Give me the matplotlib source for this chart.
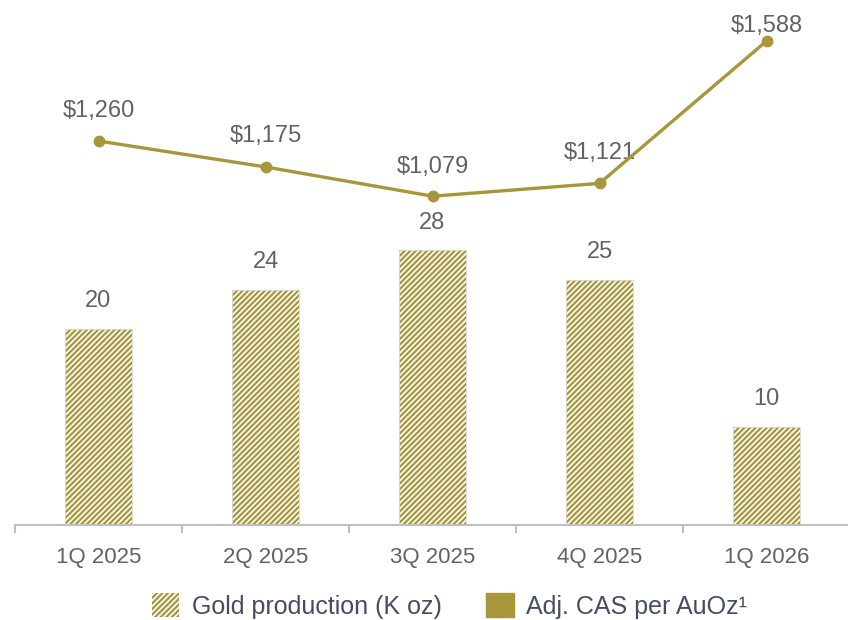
import matplotlib.pyplot as plt
import numpy as np
from matplotlib.patches import Patch

plt.rcParams['font.family'] = ['Liberation Sans', 'DejaVu Sans']
plt.rcParams['hatch.linewidth'] = 1.6

# quarterly gold production and adjusted cash cost
quarters = ['1Q 2025', '2Q 2025', '3Q 2025', '4Q 2025', '1Q 2026']
production = [20, 24, 28, 25, 10]          # K oz
cas_per_oz = [1260, 1175, 1079, 1121, 1588]  # US$ per AuOz

gold = '#A8963A'
label_grey = '#626262'
axis_grey = '#BFBFBF'
stripes = '//////'

fig = plt.figure(figsize=(8.48, 6.2), dpi=100)
ax = fig.add_axes([15 / 848, (620 - 525) / 620, 835 / 848, 515 / 620])
ax2 = ax.twinx()

x = np.arange(len(quarters))

# hatched bars for production, with a faint outline drawn on top
ax.bar(x, production, width=0.4, color='white', edgecolor=gold,
       hatch=stripes, linewidth=0, zorder=2)
ax.bar(x, production, width=0.4, fill=False, edgecolor='#D9D9D9',
       linewidth=0.6, zorder=3)
for xi, v in zip(x, production):
    ax.annotate(f'{v}', (xi, v), xytext=(0, 12), textcoords='offset points',
                ha='center', va='bottom', fontsize=17, color=label_grey)

ax.set_xlim(-0.5, len(quarters) - 0.5)
ax.set_ylim(0, 52.5)

# cash cost line on the secondary axis
ax2.plot(x, cas_per_oz, color=gold, lw=2.4, marker='o', ms=7.5, zorder=4)
line_offsets = [14, 14, 13, 14, 3]
for xi, v, off in zip(x, cas_per_oz, line_offsets):
    ax2.annotate(f'${v:,}', (xi, v), xytext=(0, off), textcoords='offset points',
                 ha='center', va='bottom', fontsize=17, color=label_grey)
ax2.set_ylim(0, 1690)

for a in (ax, ax2):
    for side in ('top', 'right', 'left'):
        a.spines[side].set_visible(False)
    a.set_yticks([])
ax2.spines['bottom'].set_visible(False)
ax.spines['bottom'].set_color(axis_grey)
ax.spines['bottom'].set_linewidth(1.5)

# category labels centred, tick marks on the boundaries
ax.set_xticks(x)
ax.set_xticklabels(quarters, fontsize=16, color=label_grey)
ax.tick_params(axis='x', which='major', length=0, pad=16)
ax.set_xticks(np.arange(-0.5, len(quarters)), minor=True)
ax.tick_params(axis='x', which='minor', length=6, width=1.5, color=axis_grey)

# legend
handles = [Patch(facecolor='white', edgecolor=gold, hatch=stripes, linewidth=0),
           Patch(facecolor=gold, edgecolor=gold)]
fig.legend(handles, ['Gold production (K oz)', 'Adj. CAS per AuOz¹'],
           loc='center', bbox_to_anchor=(0.53, 1 - 606 / 620), ncol=2,
           frameon=False, fontsize=18, labelcolor='#454D63',
           handlelength=1.1, handleheight=1.1, columnspacing=1.8,
           handletextpad=0.5)

fig.savefig('out.png', dpi=100)
